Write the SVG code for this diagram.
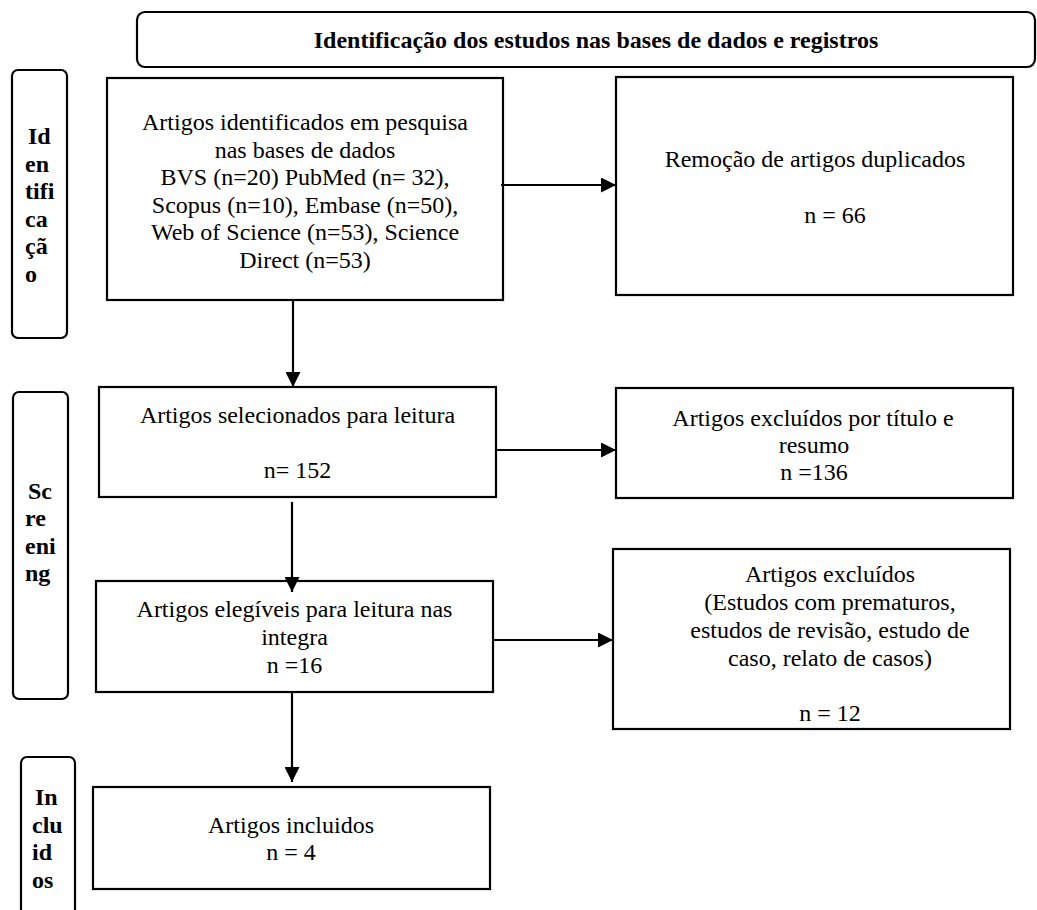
<svg xmlns="http://www.w3.org/2000/svg" width="1037" height="910" viewBox="0 0 1037 910">
<style>
.box{fill:#fff;stroke:#000;stroke-width:2.2}
.side{fill:#fff;stroke:#000;stroke-width:2.2}
.t{font-family:"Liberation Serif","Times New Roman",serif;font-size:24px;fill:#000;text-anchor:middle}
.b{font-family:"Liberation Serif","Times New Roman",serif;font-size:24px;font-weight:bold;fill:#000}
.c{stroke:#000;stroke-width:2.2;fill:none}
</style>
<defs>
<marker id="ah" markerUnits="userSpaceOnUse" markerWidth="15" markerHeight="15" viewBox="0 0 15 15" refX="15" refY="7.5" orient="auto">
<path d="M0,0 L15,7.5 L0,15 Z" fill="#000"/>
</marker>
</defs>
<rect width="1037" height="910" fill="#fff"/>

<g id="title">
<rect class="box" x="137" y="12" width="898" height="55" rx="8"/>
<text class="b" x="596" y="48" text-anchor="middle">Identificação dos estudos nas bases de dados e registros</text>
</g>

<g id="side-identificacao">
<rect class="side" x="12" y="70" width="55" height="268" rx="6"/>
<text class="b"><tspan x="28" y="144">Id</tspan><tspan x="25" y="172">en</tspan><tspan x="25" y="199">tifi</tspan><tspan x="25" y="227">ca</tspan><tspan x="25" y="254">çã</tspan><tspan x="25" y="282">o</tspan></text>
</g>

<g id="side-screening">
<rect class="side" x="13" y="392" width="55" height="307" rx="6"/>
<text class="b"><tspan x="28" y="499">Sc</tspan><tspan x="25" y="526">re</tspan><tspan x="25" y="554">eni</tspan><tspan x="25" y="581">ng</tspan></text>
</g>

<g id="side-incluidos">
<rect class="side" x="21" y="757" width="54" height="180" rx="6"/>
<text class="b"><tspan x="35" y="805">In</tspan><tspan x="32" y="833">clu</tspan><tspan x="32" y="860">id</tspan><tspan x="32" y="888">os</tspan></text>
</g>

<g id="identificados">
<rect class="box" x="107" y="78" width="396" height="222"/>
<text class="t"><tspan x="305" y="130">Artigos identificados em pesquisa</tspan><tspan x="305" y="157.5">nas bases de dados</tspan><tspan x="305" y="185">BVS (n=20) PubMed (n= 32),</tspan><tspan x="305" y="212.5">Scopus (n=10), Embase (n=50),</tspan><tspan x="305" y="240">Web of Science (n=53), Science</tspan><tspan x="305" y="267.5">Direct (n=53)</tspan></text>
</g>

<g id="duplicados">
<rect class="box" x="616" y="77" width="397" height="218"/>
<text class="t"><tspan x="815" y="167">Remoção de artigos duplicados</tspan><tspan x="835" y="223">n = 66</tspan></text>
</g>

<g id="selecionados">
<rect class="box" x="99" y="387" width="397" height="110"/>
<text class="t"><tspan x="297.5" y="423">Artigos selecionados para leitura</tspan><tspan x="297.5" y="478">n= 152</tspan></text>
</g>

<g id="excluidos-titulo">
<rect class="box" x="616" y="388" width="397" height="110"/>
<text class="t"><tspan x="813" y="426">Artigos excluídos por título e</tspan><tspan x="814" y="453">resumo</tspan><tspan x="814" y="480">n =136</tspan></text>
</g>

<g id="elegiveis">
<rect class="box" x="96" y="581" width="397" height="111"/>
<text class="t"><tspan x="294.5" y="617">Artigos elegíveis para leitura nas</tspan><tspan x="294.5" y="645">integra</tspan><tspan x="294.5" y="673">n =16</tspan></text>
</g>

<g id="excluidos">
<rect class="box" x="613" y="549" width="397" height="180"/>
<text class="t"><tspan x="830" y="582">Artigos excluídos</tspan><tspan x="830" y="610">(Estudos com prematuros,</tspan><tspan x="830" y="638">estudos de revisão, estudo de</tspan><tspan x="830" y="666">caso, relato de casos)</tspan><tspan x="830" y="721">n = 12</tspan></text>
</g>

<g id="incluidos">
<rect class="box" x="93" y="787" width="397" height="102"/>
<text class="t"><tspan x="291" y="833">Artigos incluidos</tspan><tspan x="291" y="860">n = 4</tspan></text>
</g>

<g id="connectors">
<line class="c" x1="501" y1="185" x2="616" y2="185" marker-end="url(#ah)"/>
<line class="c" x1="293" y1="300" x2="293" y2="387" marker-end="url(#ah)"/>
<line class="c" x1="496" y1="450" x2="616" y2="450" marker-end="url(#ah)"/>
<line class="c" x1="292" y1="502" x2="292" y2="592" marker-end="url(#ah)"/>
<line class="c" x1="493" y1="640" x2="613" y2="640" marker-end="url(#ah)"/>
<line class="c" x1="292" y1="692" x2="292" y2="782" marker-end="url(#ah)"/>
</g>
</svg>
